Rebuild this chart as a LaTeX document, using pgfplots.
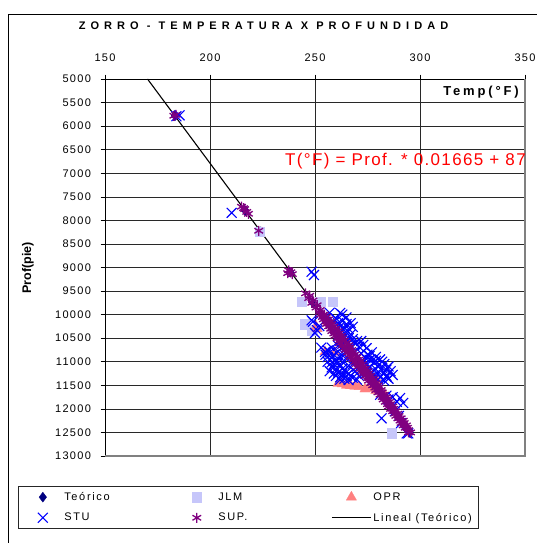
\documentclass[border=0pt]{standalone}
\usepackage{fontspec}
\setmainfont{Liberation Sans}
\newfontfamily\tickf[LetterSpace=12]{Liberation Sans}
\newfontfamily\titlef[LetterSpace=46]{Liberation Sans}
\newfontfamily\legf[LetterSpace=15]{Liberation Sans}
\newfontfamily\tempf[LetterSpace=22]{Liberation Sans}
\newfontfamily\eqf[LetterSpace=8]{Liberation Sans}
\usepackage{pgfplots}
\pgfplotsset{compat=1.18}
\pgfplotsset{
  mkleg/.style={legend image code/.code={\path[draw=none,fill=none] (0pt,-1pt) rectangle (39pt,1pt);\draw[##1, only marks] plot coordinates {(19.5pt,0pt)};}},
  lnleg/.style={legend image code/.code={\draw[##1] (0pt,0pt) -- (39pt,0pt);}}
}
\definecolor{cteo}{RGB}{0,0,128}
\definecolor{cjlm}{RGB}{198,198,250}
\definecolor{copr}{RGB}{255,128,128}
\definecolor{cstu}{RGB}{0,0,255}
\definecolor{csup}{RGB}{128,0,128}
\definecolor{cgrid}{RGB}{40,40,40}
\begin{document}
\begin{tikzpicture}
\useasboundingbox (0,0) rectangle (537pt,-543pt);
\clip (0,0) rectangle (537pt,-543pt);
\fill[white] (0,0) rectangle (537pt,-543pt);
\draw[black, line width=0.8pt] (8pt,-560pt) -- (8pt,-14.5pt) -- (560pt,-14.5pt);
\node[font=\titlef\bfseries\fontsize{11}{13}\selectfont] at (263.5pt,-26pt) {ZORRO - TEMPERATURA X PROFUNDIDAD};
\begin{axis}[
  at={(105pt,-456pt)}, anchor=south west,
  scale only axis, width=420pt, height=377pt,
  xmin=150, xmax=350, ymin=5000, ymax=13000,
  y dir=reverse,
  xtick={150,200,...,350},
  ytick={5000,5500,...,13000},
  scaled y ticks=false, scaled x ticks=false,
  /pgf/number format/set thousands separator={},
  /pgf/number format/assume math mode=true,
  xticklabel pos=upper, xtick pos=upper,
  ytick pos=left,
  tick align=outside, major tick length=4.5pt,
  tick style={black, line width=0.6pt},
  xmajorgrids, ymajorgrids,
  major grid style={cgrid, line width=0.6pt},
  axis line style={black, line width=0.7pt},
  ticklabel style={font=\tickf\fontsize{11}{13}\selectfont},
  xticklabel shift=9pt,
  yticklabel shift=6pt,
  clip=false,
  legend columns=3,
  legend cell align=left,
  legend style={at={(axis description cs:-0.2072,-0.0796)}, anchor=north west,
     draw=black!85, line width=0.7pt, inner xsep=5pt, inner ysep=4pt,
     font=\legf\fontsize{11}{13}\selectfont, row sep=7pt,
     /tikz/every even column/.append style={column sep=0pt}},
]
% Teorico
\addplot[only marks, mark=diamond*, mark size=5pt, color=cteo, mark options={line width=0.3pt}, mkleg] coordinates {
(183.3,5780) (216.9,7800) (224.2,8240) (238.2,9100) (249.0,9750) (253.5,10000) (262,10500) (270.2,11000) (278.5,11500) (286.8,12000) (295.1,12500)
};
\addlegendentry{\makebox[111pt][l]{Teórico}}
% JLM
\addplot[only marks, mark=square*, mark size=4.7pt, color=cjlm, mark options={line width=0.2pt}, mkleg] coordinates {
(223.5,8240) (243.5,9720) (252.4,9720) (258.3,9720) (245,10200) (248.6,10330) (286.5,12510)
};
\addlegendentry{\makebox[111pt][l]{JLM}}
% OPR
\addplot[only marks, mark=triangle*, mark size=6pt, color=copr, mark options={line width=0.2pt}, mkleg] coordinates {
(250.5,10250) (251,10300) (254.8,10790) (259.5,10800) (256,10180) (262,10560) (268,10880)
(263,11470) (265,11500) (267,11510) (269,11520) (271,11530) (273.8,11580) (276,11570) (279,11610) (281,11630) (280,11420) (283,11680) (266.7,11500) (261,11460)
};
\addlegendentry{OPR}
% STU
\addplot[only marks, mark=x, mark size=7pt, color=cstu, mark options={line width=1.1pt}, mkleg] coordinates {
(185.5,5770) (184,5790) (210.3,7840) (248.4,9090) (249.5,9160)
(248.4,10120) (249,10150) (250,10390) (251,10330) (252,10240) (254.8,10790) (253,10700) (256,10760) (255,10850)
(257,9960) (262,9965) (263,10000) (260,10080) (265,10060)
(259,10150) (261,10180) (263,10130) (265,10200) (267,10180) (262,10250) (264,10280) (266,10300) (268,10260) (260,10320)
(263,10350) (265,10380) (267,10420) (261,10440) (264,10470) (266,10500) (268,10520) (262,10550) (265,10580) (269,10600)
(270,10560) (263,10620) (267,10650) (271,10680) (274.6,10710) (273,10640) (272,10560)
(257,10800) (259,10850) (261,10780) (258,10920) (260,10960) (262,10900) (264,10850) (256,11000) (259,11050) (261,11020)
(263,11000) (265,10950) (258,11120) (260,11150) (262,11100) (264,11180) (266,11080) (268,11050) (261,11230) (263,11260)
(265,11220) (267,11300) (262,11330) (264,11360) (266,11390) (268,11340) (269,11200) (257,11200) (260,11300) (270,11380)
(272,10820) (275,10850) (277,10800) (274,10920) (276,10960) (279,10900) (281,10950) (273,11000) (275,11050) (278,11020)
(280,11080) (283,11050) (276,11120) (279,11160) (282,11130) (285,11100) (277,11220) (280,11250) (283,11230) (286,11200)
(278,11300) (281,11330) (284,11300) (287,11280) (280,11380) (283,11400) (285,11360) (272,11150) (274,11250)
(281,11700) (284,11720) (287,11750) (290.5,11770) (289,11850) (292,11875) (285,11800) (284,11320) (281.7,12200) (288,12050)
(290,12150) (293.7,12520) (294.4,12520) (291,12300)
(258,10700) (261,10660) (256,10900) (258,11010) (263,11150) (266,11250) (259,11250) (270,11100) (271,11300) (275,11150)
(278,11380) (282,11000) (284,11170) (279,10980) (276,10880) (267,10720) (269,10800) (264,10750) (262,11380) (265,11300)
};
\addlegendentry{STU}
% SUP.
\addplot[only marks, mark=asterisk, mark size=5pt, color=csup, mark options={line width=1.3pt}, mkleg] coordinates {
(182.8,5780) (183.8,5760) (215,7710) (216.5,7760) (217.5,7820) (218.3,7860) (216,7740) (223.2,8220) (237.5,9060) (238.5,9100) (239.2,9140) (237,9120)
(245.5,9550) (247.5,9600) (247,9650) (249,9700) (248.5,9750) (251,9800) (250.5,9850) (252.5,9900) (252,9950)
(254.5,10000) (252.5,10000) (253.5,10050) (255.5,10050) (256.5,10100) (254,10100) (255,10150) (257.5,10150)
(258,10200) (255.5,10200) (256.5,10250) (259,10250) (260,10300) (257.5,10300) (258,10350) (261,10350)
(261.5,10400) (259,10400) (259.5,10450) (262.5,10450) (263,10500) (260.5,10500) (261.5,10550) (264,10550)
(265,10600) (262,10600) (263,10650) (266,10650) (266.5,10700) (264,10700) (264.5,10750) (267.5,10750)
(268,10800) (265.5,10800) (266.5,10850) (269,10850) (270,10900) (267,10900) (268,10950) (271,10950)
(271.5,11000) (269,11000) (269.5,11050) (272.5,11050) (273,11100) (270.5,11100) (271.5,11150) (274,11150)
(275,11200) (272.5,11200) (273,11250) (275.5,11250) (276.5,11300) (274,11300) (275,11350) (277.5,11350)
(278,11400) (275.5,11400) (276.5,11450) (279,11450) (280,11500) (277.5,11500) (278.5,11550) (280.5,11550)
(281.5,11600) (279,11600) (280,11650) (282,11650) (283,11700) (281,11700) (282,11750) (284,11750)
(284.5,11800) (282.5,11800) (283.5,11850) (285.5,11850) (286,11900) (284.5,11900) (285,11950) (287,11950)
(287.5,12000) (286,12000) (287,12050) (288.5,12050) (289.5,12100) (288,12100) (288.5,12150) (290,12150)
(291,12200) (289.5,12200) (290.5,12250) (292,12250) (292.5,12300) (291,12300) (292,12350) (293.5,12350)
(294,12400) (293,12400) (294.5,12450) (295.5,12500) (294.5,12500)
};
\addlegendentry{\makebox[111pt][l]{SUP.}}
% Lineal (Teorico)
\addplot[black, line width=1.1pt, no marks, lnleg] coordinates {(170.25,5000) (295.125,12500)};
\addlegendentry{Lineal (Teórico)\hspace{4pt}}
\draw[black!50, line width=1.6pt] (axis cs:350,5000) -- (axis cs:350,13000) -- (axis cs:150,13000);
\end{axis}
\node[anchor=east, inner sep=0pt, font=\tempf\bfseries\fontsize{13}{15}\selectfont] at (519pt,-92pt) {Temp(°F)};
\node[rotate=90, font=\bfseries\fontsize{12.5}{14}\selectfont] at (28pt,-268pt) {Prof(pie)};
\node[anchor=west, inner sep=0pt, text=red, font=\eqf\fontsize{17}{19}\selectfont] at (285pt,-161pt) {T(°F) = Prof. * 0.01665 + 87};
\end{tikzpicture}
\end{document}
